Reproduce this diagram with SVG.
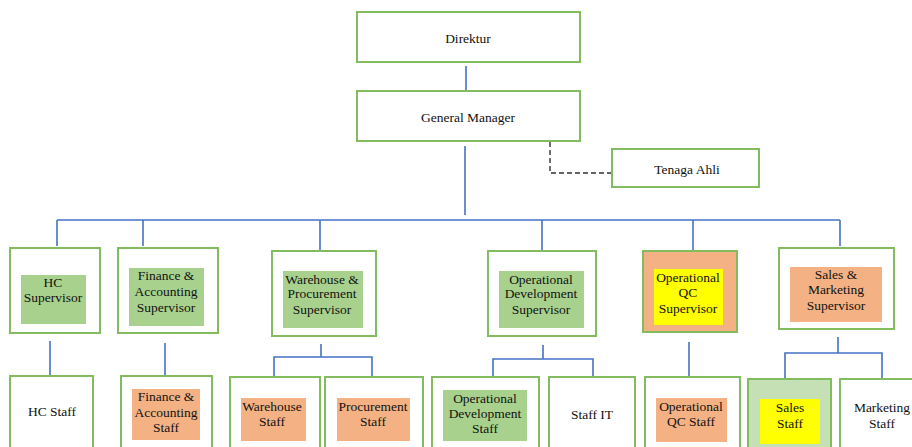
<svg xmlns="http://www.w3.org/2000/svg" width="912" height="447" viewBox="0 0 912 447">
<style>
.box{fill:#ffffff;stroke:#82BC5E;stroke-width:2}
.g{fill:#A9D18E}
.o{fill:#F4B183}
.y{fill:#FFFF00}
.lg{fill:#C5E0B4;stroke:#82BC5E;stroke-width:2}
.ob{fill:#F4B183;stroke:#82BC5E;stroke-width:2}
text{font-family:"Liberation Serif","Times New Roman",serif;font-size:13.5px;fill:#111;text-anchor:middle}
.c line,.c path{stroke:#4472C4;stroke-width:1.6;fill:none}
.c path.d{stroke:#333333;stroke-width:1.4;stroke-dasharray:5,3;fill:none}
</style>
<rect width="912" height="447" fill="#ffffff"/>
<g class="c" id="connectors">
<line x1="466" y1="66" x2="466" y2="91"/>
<line x1="465" y1="146" x2="465" y2="215"/>
<line x1="57" y1="220" x2="840" y2="220"/>
<line x1="57" y1="220" x2="57" y2="246"/>
<line x1="143" y1="220" x2="143" y2="246"/>
<line x1="320" y1="220" x2="320" y2="250"/>
<line x1="542" y1="220" x2="542" y2="250"/>
<line x1="693" y1="220" x2="693" y2="250"/>
<line x1="840" y1="220" x2="840" y2="246"/>
<line x1="50" y1="341" x2="50" y2="375"/>
<line x1="165" y1="343" x2="165" y2="376"/>
<line x1="321" y1="344" x2="321" y2="357"/>
<path d="M274 376V357H372V376"/>
<line x1="543" y1="345" x2="543" y2="359"/>
<path d="M493 376V359H593V376"/>
<line x1="689" y1="342" x2="689" y2="376"/>
<line x1="838" y1="337" x2="838" y2="353"/>
<path d="M785 378V353H882V378"/>
<path class="d" d="M550 142V173H612"/>
</g>
<g id="direktur"><rect class="box" x="357" y="12" width="223" height="50"/><text x="468" y="42.5">Direktur</text></g>
<g id="general-manager"><rect class="box" x="357" y="91" width="223" height="50"/><text x="468" y="121.5">General Manager</text></g>
<g id="tenaga-ahli"><rect class="box" x="612" y="149" width="147" height="38"/><text x="687" y="173.5">Tenaga Ahli</text></g>

<g id="hc-supervisor"><rect class="box" x="10" y="248" width="90" height="85"/><rect class="g" x="21" y="275" width="65" height="49"/><text x="53" y="286.5">HC</text><text x="53" y="301.5">Supervisor</text></g>
<g id="finance-supervisor"><rect class="box" x="118" y="248" width="100" height="85"/><rect class="g" x="129" y="268" width="75" height="58"/><text x="166" y="279.5">Finance &amp;</text><text x="166" y="295.5">Accounting</text><text x="166" y="311.5">Supervisor</text></g>
<g id="warehouse-supervisor"><rect class="box" x="272" y="251" width="104" height="85"/><rect class="g" x="283" y="271" width="80" height="57"/><text x="322" y="283.5">Warehouse &amp;</text><text x="322" y="298">Procurement</text><text x="322" y="313.5">Supervisor</text></g>
<g id="opdev-supervisor"><rect class="box" x="488" y="251" width="108" height="85"/><rect class="g" x="499" y="271" width="85" height="57"/><text x="541" y="283.5">Operational</text><text x="541" y="298">Development</text><text x="541" y="314">Supervisor</text></g>
<g id="opqc-supervisor"><rect class="ob" x="643" y="251" width="94" height="81"/><rect class="y" x="654" y="269" width="69" height="56"/><text x="688" y="281.5">Operational</text><text x="688" y="296.5">QC</text><text x="688" y="312.5">Supervisor</text></g>
<g id="sales-supervisor"><rect class="box" x="779" y="248" width="115" height="81"/><rect class="o" x="790" y="267" width="92" height="55"/><text x="836" y="278.5">Sales &amp;</text><text x="836" y="293.5">Marketing</text><text x="836" y="309.5">Supervisor</text></g>

<g id="hc-staff"><rect class="box" x="10" y="376" width="83" height="90"/><text x="52" y="415.5">HC Staff</text></g>
<g id="finance-staff"><rect class="box" x="121" y="376" width="91" height="90"/><rect class="o" x="132" y="389" width="68" height="51"/><text x="166" y="400.5">Finance &amp;</text><text x="166" y="416.5">Accounting</text><text x="166" y="431.5">Staff</text></g>
<g id="warehouse-staff"><rect class="box" x="230" y="377" width="90" height="90"/><rect class="o" x="241" y="398" width="65" height="43"/><text x="272" y="410.5">Warehouse</text><text x="272" y="425.5">Staff</text></g>
<g id="procurement-staff"><rect class="box" x="325" y="377" width="98" height="90"/><rect class="o" x="337" y="398" width="73" height="43"/><text x="373" y="410.5">Procurement</text><text x="373" y="425.5">Staff</text></g>
<g id="opdev-staff"><rect class="box" x="432" y="377" width="107" height="90"/><rect class="g" x="443" y="390" width="84" height="51"/><text x="485" y="402.5">Operational</text><text x="485" y="417.5">Development</text><text x="485" y="432.5">Staff</text></g>
<g id="staff-it"><rect class="box" x="549" y="377" width="86" height="90"/><text x="592" y="418.5">Staff IT</text></g>
<g id="opqc-staff"><rect class="box" x="645" y="377" width="95" height="90"/><rect class="o" x="656" y="398" width="71" height="44"/><text x="691" y="410.5">Operational</text><text x="691" y="425.5">QC Staff</text></g>
<g id="sales-staff"><rect class="lg" x="748" y="379" width="83" height="90"/><rect class="y" x="760" y="399" width="60" height="45"/><text x="790" y="411.5">Sales</text><text x="790" y="427.5">Staff</text></g>
<g id="marketing-staff"><rect class="box" x="840" y="379" width="80" height="90"/><text x="882" y="411.5">Marketing</text><text x="882" y="427.5">Staff</text></g>
</svg>
